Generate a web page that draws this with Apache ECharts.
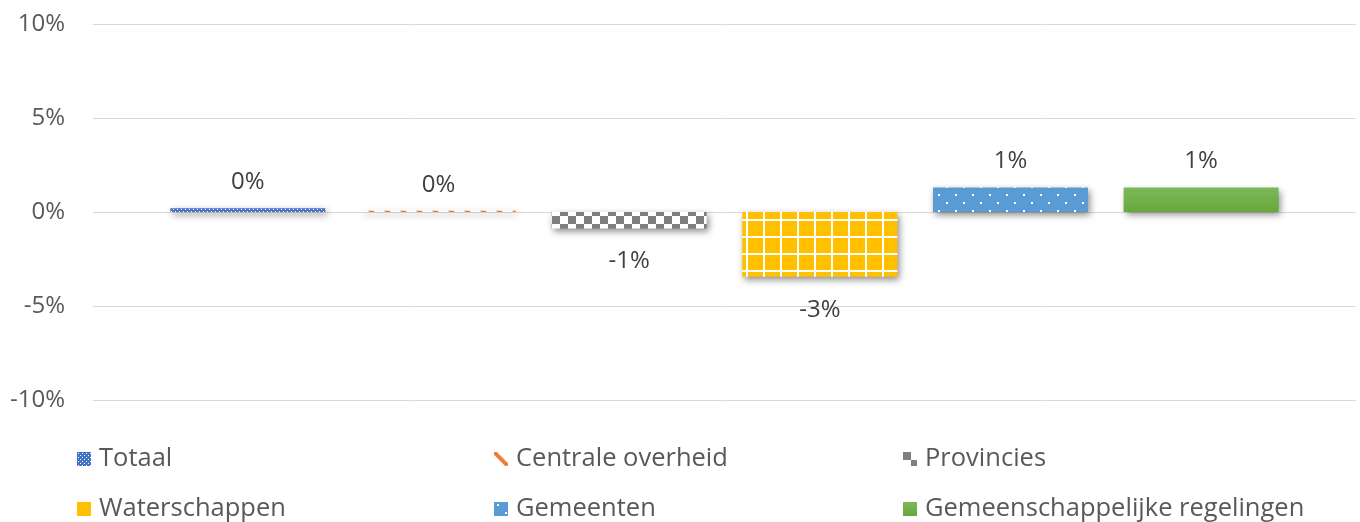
<!DOCTYPE html>
<html>
<head>
    <meta charset="utf-8">
    <title>Mutaties per sector</title>
    <script src="https://cdn.jsdelivr.net/npm/echarts@6/dist/echarts.min.js"></script>
    <style>
        body { margin: 0; background: #fff; }
    </style>
</head>
<body>
    <div id="main" style="width:1360px;height:522px;"></div>
    <script type="text/javascript">
        // data (percentages)
        var sectors = ['Totaal', 'Centrale overheid', 'Provincies', 'Waterschappen', 'Gemeenten', 'Gemeenschappelijke regelingen'];
        var values = [0.2, 0.07, -0.88, -3.45, 1.3, 1.3];
        var yTicks = [-10, -5, 0, 5, 10];

        // small canvas tiles to imitate the Excel pattern fills
        function tile(w, h, draw) {
            var c = document.createElement('canvas');
            c.width = w;
            c.height = h;
            draw(c.getContext('2d'));
            return { image: c, repeat: 'repeat' };
        }

        var fills = [
            tile(4, 4, function (g) {
                g.fillStyle = '#4472C4'; g.fillRect(0, 0, 4, 4);
                g.fillStyle = '#ffffff'; g.fillRect(1, 1, 1, 1); g.fillRect(3, 3, 1, 1);
            }),
            tile(16, 16, function (g) {
                g.fillStyle = '#ffffff'; g.fillRect(0, 0, 16, 16);
                g.strokeStyle = '#ED7D31'; g.lineWidth = 4;
                g.beginPath(); g.moveTo(-4, -4); g.lineTo(20, 20); g.stroke();
            }),
            tile(16, 16, function (g) {
                g.fillStyle = '#ffffff'; g.fillRect(0, 0, 16, 16);
                g.fillStyle = '#7F7F7F'; g.fillRect(0, 0, 8, 8); g.fillRect(8, 8, 8, 8);
            }),
            tile(17, 17, function (g) {
                g.fillStyle = '#FFC000'; g.fillRect(0, 0, 17, 17);
                g.fillStyle = '#ffffff'; g.fillRect(15, 0, 2, 17); g.fillRect(0, 15, 17, 2);
            }),
            tile(17, 16, function (g) {
                g.fillStyle = '#5B9BD5'; g.fillRect(0, 0, 17, 16);
                g.fillStyle = '#ffffff'; g.fillRect(3, 2, 2, 2); g.fillRect(11, 10, 2, 2);
            }),
            new echarts.graphic.LinearGradient(0, 0, 0, 1, [
                { offset: 0, color: '#7DB85A' },
                { offset: 1, color: '#67A73C' }
            ])
        ];

        var font = 'Open Sans';
        var myChart = echarts.init(document.getElementById('main'));

        var series = sectors.map(function (name, i) {
            var neg = values[i] < 0;
            return {
                name: name,
                type: 'bar',
                data: [values[i]],
                barWidth: 155,
                barGap: '23%',
                itemStyle: {
                    color: fills[i],
                    shadowColor: 'rgba(0,0,0,0.45)',
                    shadowBlur: 7,
                    shadowOffsetX: 2,
                    shadowOffsetY: 3
                },
                label: {
                    show: true,
                    position: neg ? 'bottom' : 'top',
                    distance: neg ? 21 : 14,
                    color: '#404040',
                    fontSize: 24,
                    fontFamily: font,
                    formatter: function (p) { return Math.round(p.value) + '%'; }
                }
            };
        });

        // one legend block per item so the three columns line up like the original
        var legendX = [77, 494, 903];
        var legendY = [446, 496];
        var legends = sectors.map(function (name, i) {
            return {
                data: [name],
                left: legendX[i % 3],
                top: legendY[Math.floor(i / 3)],
                padding: 0,
                itemWidth: 14,
                itemHeight: 14,
                itemGap: 0,
                icon: 'rect',
                textStyle: { fontSize: 25.5, color: '#595959', fontFamily: font, padding: [0, 0, 0, 3] }
            };
        });

        var option = {
            animation: false,
            grid: { left: 93, right: 4, top: 24, height: 376 },
            legend: legends,
            xAxis: {
                type: 'category',
                data: [''],
                axisLine: { show: false },
                axisTick: { show: false },
                axisLabel: { show: false }
            },
            yAxis: {
                type: 'value',
                min: yTicks[0],
                max: yTicks[yTicks.length - 1],
                interval: 5,
                axisLine: { show: false },
                axisTick: { show: false },
                splitLine: { lineStyle: { color: '#D9D9D9', width: 1 } },
                axisLabel: {
                    margin: 28,
                    fontSize: 24,
                    color: '#595959',
                    fontFamily: font,
                    formatter: function (v) { return v + '%'; }
                }
            },
            series: series
        };

        myChart.setOption(option);
    </script>
</body>
</html>
